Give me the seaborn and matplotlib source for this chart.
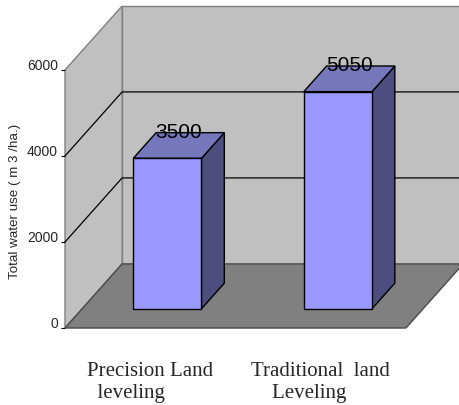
import matplotlib
matplotlib.use("Agg")
import matplotlib.pyplot as plt
import matplotlib.transforms as mtransforms
from matplotlib.patches import Polygon
import pandas as pd
import seaborn as sns

# Chart data
categories = ["Precision Land\n  leveling", "Traditional  land\n    Leveling"]
water_use = [3500, 5050]
y_ticks = [0, 2000, 4000, 6000]
y_label = "Total water use ( m 3 /ha.)"

sns.set_style("white")
sans = ["Liberation Sans", "DejaVu Sans"]
serif = ["Liberation Serif", "DejaVu Serif"]
plt.rcParams["font.family"] = sans

W, H, DPI = 459, 405, 100
fig = plt.figure(figsize=(W / DPI, H / DPI), dpi=DPI)
fig.patch.set_facecolor("white")

# front plane of the 3-D box (pixels)
left, right, bottom, top = 65, 406, 328, 70
ax = fig.add_axes([left / W, 1 - bottom / H, (right - left) / W, (bottom - top) / H])
ax.set_facecolor("none")

df = pd.DataFrame({"method": categories, "water": water_use})
sns.barplot(data=df, x="method", y="water", color="#9999FF", saturation=1,
            width=0.4, edgecolor="black", linewidth=1, ax=ax, zorder=3)

x0, x1 = -0.5, 1.5
ymax = y_ticks[-1]
ax.set_xlim(x0, x1)
ax.set_ylim(0, ymax)

# oblique depth of the box and the depth span of the bars
DX, DY = 0.335, 1490
F0, F1 = 0.3, 0.7

wall, floor, edge = "#C0C0C0", "#808080", "#808080"


def poly(pts, **kw):
    p = Polygon(pts, closed=True, clip_on=False, **kw)
    ax.add_patch(p)
    return p


# back wall, side wall and floor
poly([(x0 + DX, DY), (x1 + DX, DY), (x1 + DX, ymax + DY), (x0 + DX, ymax + DY)],
     facecolor=wall, edgecolor=edge, lw=1, zorder=0)
poly([(x0, 0), (x0 + DX, DY), (x0 + DX, ymax + DY), (x0, ymax)],
     facecolor=wall, edgecolor=edge, lw=1, zorder=0.5)
poly([(x0, 0), (x1, 0), (x1 + DX, DY), (x0 + DX, DY)],
     facecolor=floor, edgecolor="#4a4a4a", lw=1, zorder=0.6)

# gridlines running along side wall and back wall
for v in y_ticks[1:-1]:
    ax.plot([x0, x0 + DX, x1 + DX], [v, v + DY, v + DY], color="black",
            lw=0.9, clip_on=False, zorder=0.8)

# push bar fronts into the box and add their top and side faces
shift = mtransforms.Affine2D().translate(F0 * DX, F0 * DY)
for bar in ax.containers[0]:
    bx, by = bar.get_x(), bar.get_y()
    bw, bh = bar.get_width(), bar.get_height()
    bar.set_transform(shift + ax.transData)
    bar.set_clip_on(False)
    xr, yt = bx + bw, by + bh
    poly([(xr + F0 * DX, by + F0 * DY), (xr + F1 * DX, by + F1 * DY),
          (xr + F1 * DX, yt + F1 * DY), (xr + F0 * DX, yt + F0 * DY)],
         facecolor="#4D4D80", edgecolor="black", lw=1, zorder=2.9)
    poly([(bx + F0 * DX, yt + F0 * DY), (xr + F0 * DX, yt + F0 * DY),
          (xr + F1 * DX, yt + F1 * DY), (bx + F1 * DX, yt + F1 * DY)],
         facecolor="#7777BB", edgecolor="black", lw=1, zorder=2.9)
    fm = 0.5 * (F0 + F1)
    ax.annotate(f"{bh:.0f}", xy=(bx + bw / 2 + fm * DX, yt + fm * DY),
                xytext=(0, 13), textcoords="offset pixels", ha="center",
                va="center", fontsize=15, color="black", zorder=5,
                annotation_clip=False)

for s in ax.spines.values():
    s.set_visible(False)

ax.set_yticks(y_ticks)
ax.set_yticklabels([str(t) for t in y_ticks])
ax.tick_params(axis="y", left=True, length=3, width=0.8, color="black",
               pad=2, labelsize=10)
for lab in ax.get_yticklabels():
    lab.set_verticalalignment("baseline")

ax.set_xlabel("")
ax.tick_params(axis="x", bottom=False, length=0, pad=24.5)
for lab in ax.get_xticklabels():
    lab.set_fontfamily(serif)
    lab.set_fontsize(15)
    lab.set_multialignment("left")

ax.set_ylabel(y_label, fontsize=9.6, va="center")
ax.yaxis.set_label_coords(-0.148, 0.49)

fig.savefig("out.png", dpi=DPI, facecolor="white")
